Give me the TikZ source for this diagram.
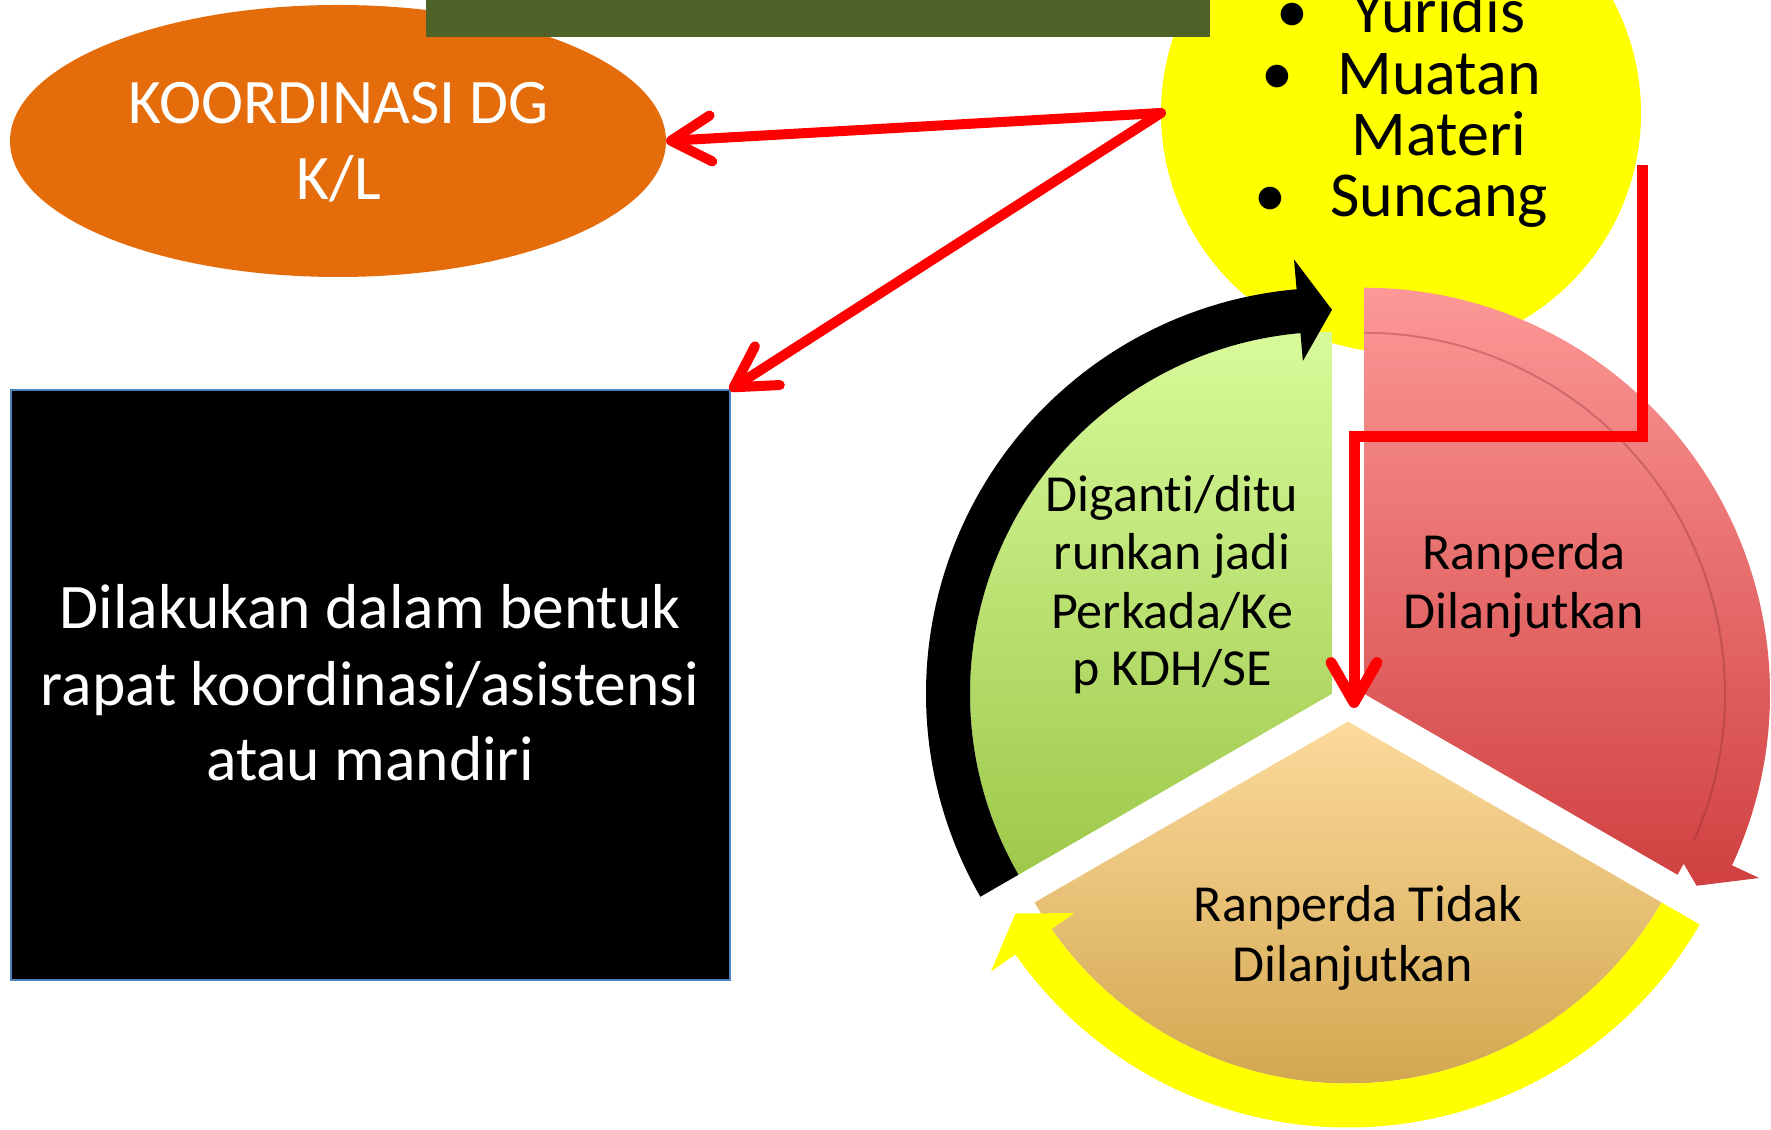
\documentclass[tikz,border=0pt]{standalone}
\usepackage{fontspec}
\setmainfont{Carlito}[Ligatures={NoCommon}]
\usetikzlibrary{arrows.meta,calc,shapes.geometric}
\definecolor{olivebar}{HTML}{4F6228}
\definecolor{orangeell}{HTML}{E46C0A}
\definecolor{rectborder}{HTML}{4F81BD}
\definecolor{pureyellow}{RGB}{255,255,0}
\definecolor{greentop}{RGB}{216,250,154}
\definecolor{greenbot}{RGB}{158,200,74}
\definecolor{redtop}{RGB}{252,152,150}
\definecolor{redbot}{RGB}{208,64,64}
\definecolor{tantop}{RGB}{252,218,156}
\definecolor{tanbot}{RGB}{205,160,70}
\begin{document}
\begin{tikzpicture}[x=1pt,y=1pt,
  redline/.style={draw=red, line width=10pt, line cap=round, line join=round},
  redarrow/.style={redline, -{Straight Barb[length=40pt,width=46pt,round]}},
  txtA/.style={font=\fontsize{63.5}{76}\selectfont, inner sep=0pt, anchor=base, text=white},
  txtL/.style={font=\fontsize{64}{61}\selectfont, inner sep=0pt, anchor=base},
  txtP/.style={font=\fontsize{52}{58.5}\selectfont, inner sep=0pt, anchor=base},
]
\useasboundingbox (0,0) rectangle (1771,1129);
\clip (0,0) rectangle (1771,1129);

% orange ellipse
\node[ellipse, fill=orangeell, minimum width=656pt, minimum height=272pt, inner sep=0pt, outer sep=0pt] (koord) at (338,988) {};
\node[txtA] (k1) at (339,1005) {KOORDINASI DG};
\node[txtA] (k2) at (339,929) {K/L};

% yellow circle
\node[circle, fill=pureyellow, minimum size=480pt, inner sep=0pt, outer sep=0pt] (yc) at (1401,1016) {};

% olive bar at top
\fill[olivebar] (426,1092) rectangle (1210,1140);

% list in yellow circle
\node[txtL] (l1) at (1439,1096) {Yuridis};
\node[txtL] (l2) at (1439,1034) {Muatan};
\node[txtL] (l3) at (1439,973) {Materi};
\node[txtL] (l4) at (1439,912) {Suncang};
\node[txtL] (b1) at ($(l1.base west)+(-60,0)$) {•};
\node[txtL] (b2) at ($(l2.base west)+(-60,0)$) {•};
\node[txtL] (b4) at ($(l4.base west)+(-60,0)$) {•};

% black box
\node[fill=black, draw=rectborder, line width=2pt, minimum width=719pt, minimum height=590pt, inner sep=0pt, outer sep=0pt] (box) at (370,444) {};
\node[txtA] (d1) at (370,500) {Dilakukan dalam bentuk};
\node[txtA] (d2) at (370,423) {rapat koordinasi/asistensi};
\node[txtA] (d3) at (370,348) {atau mandiri};

% pie
\coordinate (pc) at (1348,426);
\coordinate (cg) at ($(pc)+(150:18.5)$);
\coordinate (cr) at ($(pc)+(30:18.5)$);
\coordinate (ct) at ($(pc)+(270:18.5)$);

\shade[top color=greentop, bottom color=greenbot]
  (cg) -- ($(cg)+(90:362)$) arc[start angle=90,end angle=210,radius=362] -- cycle;

\shade[top color=redtop, bottom color=redbot]
  (cr) -- ($(cr)+(90:362)$) arc[start angle=90,end angle=-30,radius=362] -- cycle
  ($(cr)+(90:406)$) arc[start angle=90,end angle=-25,radius=406]
  -- ($(cr)+(-25:436)$) -- ($(cr)+(-30:384)$) -- ($(cr)+(-25:334)$)
  -- ($(cr)+(-25:362)$) arc[start angle=-25,end angle=90,radius=362] -- cycle;
\draw[redbot!60!black, opacity=0.3, line width=2pt]
  ($(cr)+(90:361)$) arc[start angle=90,end angle=-24,radius=361];

\shade[top color=tantop, bottom color=tanbot]
  (ct) -- ($(ct)+(-30:362)$) arc[start angle=-30,end angle=-150,radius=362] -- cycle;

% circular arrows
\fill[black]
  ($(cg)+(210:362)$) arc[start angle=210,end angle=95,radius=362]
  -- ($(cg)+(95:334)$) -- ($(cg)+(90:384)$) -- ($(cg)+(95:436)$)
  -- ($(cg)+(95:406)$) arc[start angle=95,end angle=210,radius=406] -- cycle;
\fill[pureyellow]
  ($(ct)+(-30:362)$) arc[start angle=-30,end angle=-145,radius=362]
  -- ($(ct)+(-145:334)$) -- ($(ct)+(-150:384)$) -- ($(ct)+(-145:436)$)
  -- ($(ct)+(-145:406)$) arc[start angle=-145,end angle=-30,radius=406] -- cycle;

% pie texts
\node[txtP] (g1) at (1172,617) {Diganti/ditu};
\node[txtP] (g2) at (1172,559) {runkan jadi};
\node[txtP] (g3) at (1172,500) {Perkada/Ke};
\node[txtP] (g4) at (1172,443) {p KDH/SE};
\node[txtP] (r1) at (1524,559) {Ranperda};
\node[txtP] (r2) at (1524,500) {Dilanjutkan};
\node[txtP] (t1) at (1358,207) {Ranperda Tidak};
\node[txtP] (t2) at (1353,147) {Dilanjutkan};

% red connectors
\draw[redarrow] (yc.west) -- (koord.east);
\draw[redarrow] (yc.west) -- (box.north east);
\coordinate (e0) at (1642,964);
\coordinate (e1) at (1354,421);
\draw[redarrow, line width=11pt, line cap=butt, line join=miter] (e0) -- ++(0,-272) -| (e1);
\end{tikzpicture}
\end{document}
